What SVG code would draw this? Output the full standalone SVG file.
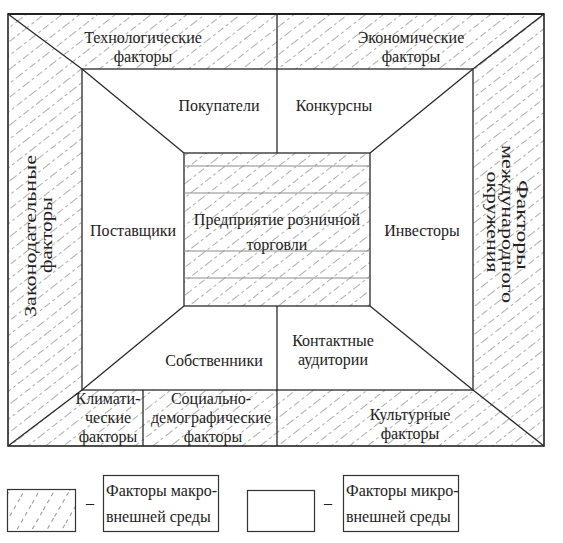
<svg xmlns="http://www.w3.org/2000/svg" width="563" height="543" viewBox="0 0 563 543">
<defs>
<pattern id="hatch" patternUnits="userSpaceOnUse" width="34" height="11" patternTransform="rotate(-38)">
<line x1="0" y1="5.5" x2="34" y2="5.5" stroke="#8a8a8a" stroke-width="0.7" stroke-dasharray="7 3 3 3"/>
</pattern>
<pattern id="hatch2" patternUnits="userSpaceOnUse" width="30" height="13" patternTransform="rotate(-60)">
<line x1="0" y1="6.5" x2="30" y2="6.5" stroke="#777" stroke-width="0.8" stroke-dasharray="4 4"/>
</pattern>
</defs>
<style>
.t{font-family:'Liberation Serif','Times New Roman',Times,serif;font-size:16px;fill:#222}
.c{text-anchor:middle}
.ln{stroke:#2a2a2a;stroke-width:1.3;fill:none}
.th{stroke:#222;stroke-width:1.6;fill:none}
.hl{stroke:#8a8a8a;stroke-width:1}
</style>
<rect width="563" height="543" fill="#fff"/>
<g id="hatch-areas">
<path d="M8,14 H544 V446 H8 Z M82,69 V390 H473 V69 Z" fill="url(#hatch)" fill-rule="evenodd"/>
<rect x="184" y="153" width="186" height="153" fill="url(#hatch)"/>
</g>
<g id="connectors">
<rect class="th" x="8" y="14" width="536" height="432"/>
<line x1="8" y1="14" x2="544" y2="14" stroke="#222" stroke-width="2.2"/>
<rect class="ln" x="82" y="69" width="391" height="321"/>
<rect class="ln" x="184" y="153" width="186" height="153"/>
<polyline class="ln" points="8,14 82,69 184,153"/>
<polyline class="ln" points="544,14 473,69 370,153"/>
<polyline class="ln" points="8,446 82,390 184,306"/>
<polyline class="ln" points="544,446 473,390 370,306"/>
<line class="ln" x1="277" y1="14" x2="277" y2="153"/>
<line class="ln" x1="277" y1="306" x2="277" y2="446"/>
<line class="ln" x1="143" y1="390" x2="143" y2="446"/>
<line class="hl" x1="184" y1="166" x2="370" y2="166"/>
<line class="hl" x1="184" y1="193" x2="370" y2="193"/>
<line class="hl" x1="184" y1="251" x2="370" y2="251"/>
<line class="hl" x1="184" y1="278" x2="370" y2="278"/>
</g>
<g class="t" font-family="Liberation Serif, serif" font-size="16">
<g id="tech"><text class="c" x="143" y="43">Технологические</text><text class="c" x="143" y="62">факторы</text></g>
<g id="econ"><text class="c" x="411" y="43">Экономические</text><text class="c" x="411" y="62">факторы</text></g>
<g id="law"><text class="c" font-size="17" textLength="162" lengthAdjust="spacingAndGlyphs" transform="translate(36,236) rotate(-90)">Законодательные</text><text class="c" font-size="17" textLength="76" lengthAdjust="spacingAndGlyphs" transform="translate(52,235) rotate(-90)">факторы</text></g>
<g id="intl"><text class="c" font-size="17" textLength="90" lengthAdjust="spacingAndGlyphs" transform="translate(517,225) rotate(90)">Факторы</text><text class="c" font-size="17" textLength="158" lengthAdjust="spacingAndGlyphs" transform="translate(502,224) rotate(90)">международного</text><text class="c" font-size="17" textLength="101" lengthAdjust="spacingAndGlyphs" transform="translate(487,222) rotate(90)">окружения</text></g>
<g id="buyers"><text class="c" x="219" y="111">Покупатели</text></g>
<g id="competitors"><text class="c" x="334" y="111">Конкурсны</text></g>
<g id="suppliers"><text class="c" x="133" y="236">Поставщики</text></g>
<g id="investors"><text class="c" x="422" y="236">Инвесторы</text></g>
<g id="retail"><text class="c" x="277" y="225">Предприятие розничной</text><text class="c" x="277" y="250">торговли</text></g>
<g id="owners"><text class="c" x="214" y="366">Собственники</text></g>
<g id="audiences"><text class="c" x="333" y="346">Контактные</text><text class="c" x="333" y="365">аудитории</text></g>
<g id="climate"><text class="c" x="108" y="404">Климати-</text><text class="c" x="108" y="423">ческие</text><text class="c" x="108" y="442">факторы</text></g>
<g id="social"><text class="c" x="211" y="404">Социально-</text><text class="c" x="211" y="423">демографические</text><text class="c" x="213" y="442">факторы</text></g>
<g id="culture"><text class="c" x="410" y="420">Культурные</text><text class="c" x="410" y="439">факторы</text></g>
<g id="legend-macro">
<rect x="7.5" y="489.5" width="68" height="42" fill="url(#hatch2)" stroke="#333" stroke-width="1.2"/>
<text x="86" y="508">–</text>
<rect x="103.5" y="475.5" width="115" height="56" fill="none" stroke="#333" stroke-width="1.2"/>
<text x="106" y="496">Факторы макро-</text><text x="106" y="522">внешней среды</text>
</g>
<g id="legend-micro">
<rect x="247.5" y="490.5" width="67" height="41" fill="none" stroke="#333" stroke-width="1.2"/>
<text x="324" y="508">–</text>
<rect x="343.5" y="475.5" width="115" height="56" fill="none" stroke="#333" stroke-width="1.2"/>
<text x="346" y="496">Факторы микро-</text><text x="346" y="522">внешней среды</text>
</g>
</g>
</svg>
